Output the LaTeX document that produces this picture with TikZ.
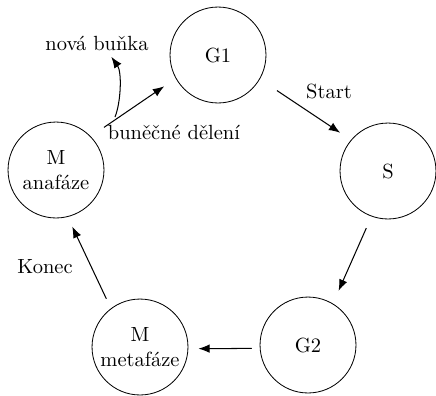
\documentclass[tikz,border=0pt]{standalone}
\usetikzlibrary{arrows.meta}
\begin{document}
\begin{tikzpicture}[x=0.4878pt,y=-0.4878pt,
  state/.style={circle,draw,minimum size=46.8pt,inner sep=0pt,align=center},
  lbl/.style={inner sep=0pt},
  conn/.style={-{Latex[length=5.5pt,width=4.2pt]},line width=0.5pt}]
\useasboundingbox (0,0) rectangle (436,395);
\node[state] (G1) at (218,55) {G1};
\node[state] (S) at (388,171) {S};
\node[state] (G2) at (308,345) {G2};
\node[state] (Mm) at (140,347) {M\\metafáze};
\node[state] (Ma) at (56,170) {M\\anafáze};
\node[lbl] (start) at (329,91) {Start};
\node[lbl] (konec) at (45,267) {Konec};
\node[lbl] (deleni) at (174,132) {buněčné dělení};
\node[lbl] (nova) at (97,43) {nová buňka};
\coordinate (split) at (115,117);
\draw[conn,shorten <=7.8pt,shorten >=6.8pt] (Ma.44) -- (G1.209);
\draw[conn,shorten <=10pt,shorten >=6.3pt] (G1.-30) -- (S.140);
\draw[conn,shorten <=6.2pt,shorten >=6.8pt] (S.-110) -- (G2.59);
\draw[conn,shorten <=3.9pt,shorten >=4.9pt] (G2.184) -- (Mm.-2);
\draw[conn,shorten <=5.2pt,shorten >=5.2pt] (Mm.127) -- (Ma.-76);
\draw[conn] (split) .. controls (121,102) and (122,72) .. ([xshift=7pt,yshift=-3pt]nova.south);
\end{tikzpicture}
\end{document}
